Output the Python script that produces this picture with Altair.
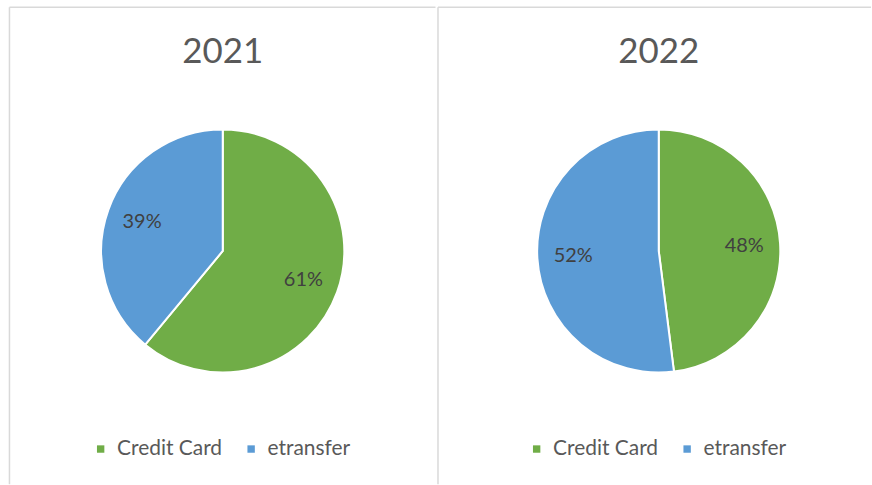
import altair as alt
import pandas as pd

categories = ["Credit Card", "etransfer"]
colors = ["#70AD47", "#5B9BD5"]
years = ["2021", "2022"]
share_2021 = [61, 39]
share_2022 = [48, 52]

FONT = "Lato"
H = 485
BORDER = "#d9d9d9"


def panel(year, values, width, left_x, cx):
    df = pd.DataFrame({"method": categories, "share": values, "order": [0, 1]})
    df["label"] = [f"{v}%" for v in values]
    base = alt.Chart(df)
    theta = alt.Theta("share:Q", stack=True)
    color_scale = alt.Scale(domain=categories, range=colors)

    pie = base.mark_arc(outerRadius=122, stroke="white", strokeWidth=2).encode(
        theta=theta,
        color=alt.Color(
            "method:N",
            scale=color_scale,
            legend=alt.Legend(
                orient="none",
                legendX=cx - 133,
                legendY=439,
                direction="horizontal",
                title=None,
                symbolType="square",
                symbolSize=55,
                symbolStrokeWidth=0,
                labelFont=FONT,
                labelFontSize=21,
                labelColor="#595959",
                labelOffset=6,
                columnPadding=18,
            ),
        ),
        order=alt.Order("order:Q"),
        x=alt.value(cx),
        y=alt.value(251),
    )

    labels = base.mark_text(
        radius=86, font=FONT, fontSize=20, color="#404040"
    ).encode(
        theta=theta,
        detail="method:N",
        order=alt.Order("order:Q"),
        text="label:N",
        x=alt.value(cx),
        y=alt.value(251),
    )

    title = alt.Chart(pd.DataFrame({"year": [year]})).mark_text(
        font=FONT, fontSize=35, color="#595959", baseline="middle"
    ).encode(text="year:N", x=alt.value(cx), y=alt.value(51))

    one = alt.Chart(pd.DataFrame({"a": [0]}))
    top = one.mark_rule(color=BORDER, strokeWidth=1.5).encode(
        x=alt.value(left_x), x2=alt.value(width), y=alt.value(6.5)
    )
    left = one.mark_rule(color=BORDER, strokeWidth=1.5).encode(
        x=alt.value(left_x), y=alt.value(6.5), y2=alt.value(H)
    )

    return alt.layer(top, left, pie, labels, title).properties(width=width, height=H)


p1 = panel(years[0], share_2021, 437, 9.5, 223.5)
p2 = panel(years[1], share_2022, 435, 0.5, 222)

chart = (
    alt.hconcat(p1, p2, spacing=0)
    .resolve_scale(color="independent")
    .resolve_legend(color="independent")
    .properties(padding=0)
    .configure_view(stroke=None)
)

chart.save("out.html", embed_options={"renderer": "svg", "actions": False})
